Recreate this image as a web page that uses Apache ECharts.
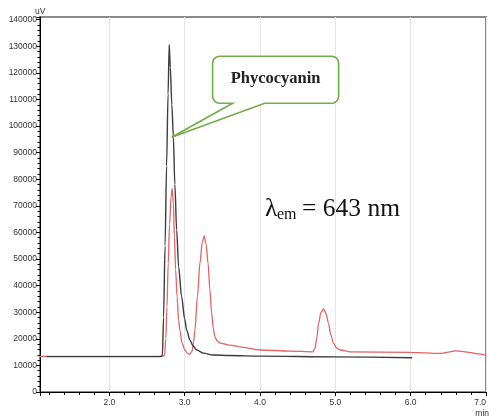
<!DOCTYPE html>
<html>
<head>
<meta charset="utf-8">
<script src="https://cdn.jsdelivr.net/npm/echarts@6/dist/echarts.min.js"></script>
<style>
  html, body { margin: 0; padding: 0; background: #fff; }
  #chart { width: 489px; height: 419px; }
</style>
</head>
<body>
<div id="chart"></div>
<script>
// retention time (min), signal (uV)
const blackTrace = [
  [1.17, 13300], [2.0, 13300], [2.6, 13300], [2.69, 13300], [2.705, 14000],
  [2.72, 28000], [2.74, 55000], [2.76, 85000], [2.78, 112000], [2.795, 130700],
  [2.81, 122000], [2.83, 108000], [2.85, 95900], [2.87, 78000], [2.894, 60900],
  [2.92, 47000], [2.96, 35800], [3.0, 27500], [3.027, 23300], [3.07, 19500],
  [3.11, 17400], [3.16, 15800], [3.25, 14600], [3.376, 13900], [3.6, 13700],
  [4.0, 13500], [5.0, 13200], [6.02, 12900]
];
const redTrace = [
  [1.08, 13400], [2.0, 13400], [2.65, 13400], [2.72, 13500], [2.735, 14200],
  [2.75, 20000], [2.765, 32000], [2.782, 48400], [2.80, 63000], [2.82, 73500],
  [2.835, 76500], [2.85, 71000], [2.865, 58000], [2.88, 46000], [2.90, 35800],
  [2.92, 27000], [2.936, 23300], [2.965, 18500], [3.002, 15800], [3.04, 14500],
  [3.07, 14200], [3.10, 15500], [3.12, 19000], [3.136, 23300], [3.17, 36000],
  [3.203, 48500], [3.235, 56500], [3.26, 58700], [3.285, 55500], [3.31, 48500],
  [3.335, 38500], [3.358, 29700], [3.38, 24000], [3.40, 20800], [3.43, 19200],
  [3.47, 18400], [3.60, 17600], [3.735, 17000], [4.0, 15800], [4.4, 15400],
  [4.70, 15100], [4.73, 16500], [4.755, 20500], [4.777, 25800], [4.81, 30000],
  [4.843, 31200], [4.875, 29500], [4.91, 25800], [4.94, 21500], [4.976, 18300],
  [5.02, 16500], [5.065, 15800], [5.2, 15100], [6.0, 14900], [6.39, 14500],
  [6.5, 15000], [6.594, 15500], [6.7, 15200], [6.8, 14800], [6.9, 14300], [7.0, 13900]
];
const xRange = [1.08, 7.0];
const yRange = [0, 141000];
const calloutText = 'Phycocyanin';
const calloutAnchor = [2.827, 95800];

const chart = echarts.init(document.getElementById('chart'));

const axisFont = { fontSize: 8.5, color: '#333', fontFamily: 'Liberation Sans, Arial, sans-serif' };

chart.setOption({
  backgroundColor: '#fff',
  animation: false,
  grid: { left: 40, right: 3, top: 17, bottom: 27, show: true, borderColor: '#8a8a8a', borderWidth: 2 },
  xAxis: {
    type: 'value',
    min: xRange[0],
    max: xRange[1],
    splitNumber: 5,
    axisLine: { lineStyle: { color: '#000', width: 1 } },
    axisTick: { length: 4, lineStyle: { color: '#000' } },
    minorTick: { show: true, splitNumber: 5, length: 3, lineStyle: { color: '#000' } },
    splitLine: { show: true, lineStyle: { color: '#e4e4e4', width: 1 } },
    axisLabel: Object.assign({
      margin: 6,
      showMinLabel: false,
      alignMaxLabel: 'right',
      formatter: v => v.toFixed(1)
    }, axisFont)
  },
  yAxis: {
    type: 'value',
    min: yRange[0],
    max: yRange[1],
    interval: 10000,
    axisLine: { show: true, lineStyle: { color: '#000', width: 1 } },
    axisTick: { show: true, length: 4, lineStyle: { color: '#000' } },
    minorTick: { show: true, splitNumber: 5, length: 2.5, lineStyle: { color: '#000' } },
    splitLine: { show: false },
    axisLabel: Object.assign({ margin: 3, showMaxLabel: false, formatter: v => String(v) }, axisFont)
  },
  series: [
    {
      type: 'line',
      data: redTrace,
      showSymbol: false,
      smooth: 0.3,
      smoothMonotone: 'x',
      lineStyle: { color: '#e46262', width: 1.3 },
      z: 2
    },
    {
      type: 'line',
      data: blackTrace,
      showSymbol: false,
      smooth: 0.3,
      smoothMonotone: 'x',
      lineStyle: { color: '#3c3c3c', width: 1.4 },
      z: 3
    }
  ]
});

// callout box: rounded rect with a tail pointing at the anchor
function calloutPoints(x1, y1, x2, y2, r, b1, b2, tip) {
  const pts = [];
  const arc = (cx, cy, a0, a1) => {
    for (let i = 0; i <= 6; i++) {
      const a = a0 + (a1 - a0) * i / 6;
      pts.push([cx + r * Math.cos(a), cy + r * Math.sin(a)]);
    }
  };
  arc(x1 + r, y1 + r, Math.PI, Math.PI * 1.5);
  arc(x2 - r, y1 + r, Math.PI * 1.5, Math.PI * 2);
  arc(x2 - r, y2 - r, 0, Math.PI * 0.5);
  pts.push([b2, y2], tip, [b1, y2]);
  arc(x1 + r, y2 - r, Math.PI * 0.5, Math.PI);
  return pts;
}

const tip = chart.convertToPixel({ gridIndex: 0 }, calloutAnchor);
const bx1 = tip[0] + 41, by1 = tip[1] - 81, bx2 = tip[0] + 167, by2 = tip[1] - 34;
const serif = '"Liberation Serif", "Times New Roman", serif';

chart.setOption({
  graphic: [
    {
      type: 'polygon',
      shape: { points: calloutPoints(bx1, by1, bx2, by2, 7, tip[0] + 61, tip[0] + 93, tip) },
      style: { fill: '#fff', stroke: '#70ad47', lineWidth: 1.6 },
      z: 10
    },
    {
      type: 'text',
      x: (bx1 + bx2) / 2,
      y: (by1 + by2) / 2 - 1,
      style: { text: calloutText, fontFamily: serif, fontWeight: 'bold', fontSize: 16.5, fill: '#222', align: 'center', verticalAlign: 'middle' },
      z: 11
    },
    {
      type: 'text', x: 265, y: 209,
      style: { text: 'λ', fontFamily: serif, fontSize: 25.5, fill: '#111', align: 'left', verticalAlign: 'middle' },
      z: 11
    },
    {
      type: 'text', x: 277, y: 215,
      style: { text: 'em', fontFamily: serif, fontSize: 16, fill: '#111', align: 'left', verticalAlign: 'middle' },
      z: 11
    },
    {
      type: 'text', x: 302, y: 209,
      style: { text: '= 643 nm', fontFamily: serif, fontSize: 25.5, fill: '#111', align: 'left', verticalAlign: 'middle' },
      z: 11
    },
    {
      type: 'text', x: 35, y: 7,
      style: { text: 'uV', fontSize: 8.5, fill: '#333', fontFamily: 'Liberation Sans, Arial, sans-serif' },
      z: 11
    },
    {
      type: 'text', x: 489, y: 409,
      style: { text: 'min', fontSize: 8.5, fill: '#333', align: 'right', fontFamily: 'Liberation Sans, Arial, sans-serif' },
      z: 11
    }
  ]
});
</script>
</body>
</html>
